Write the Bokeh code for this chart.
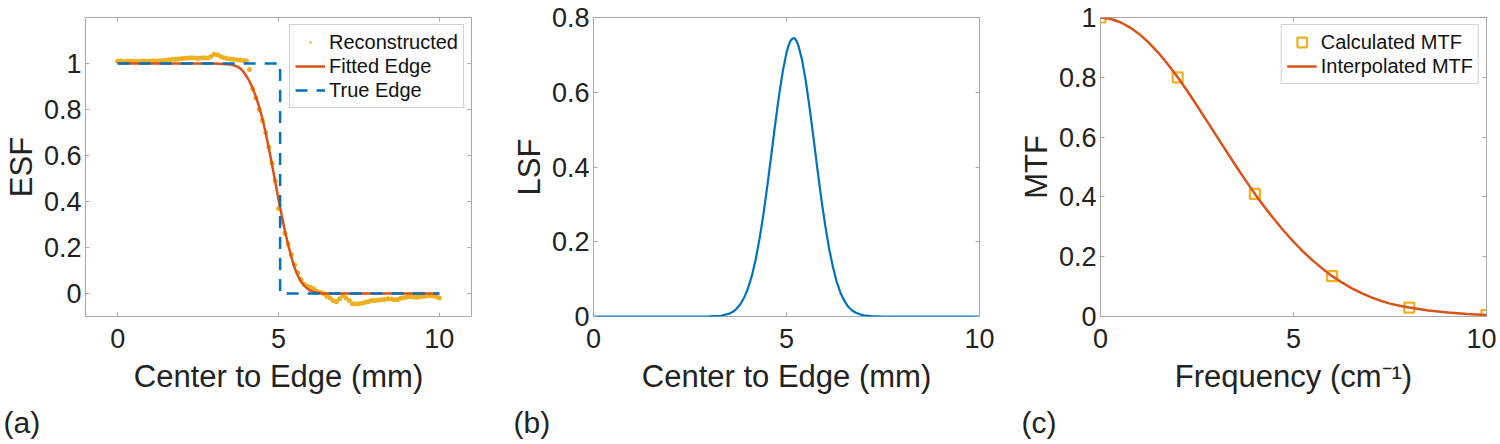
from bokeh.plotting import figure
from bokeh.layouts import row
from bokeh.models import (Range1d, FixedTicker, LinearAxis, NumeralTickFormatter, Title)
from bokeh.embed import file_html
from bokeh.resources import INLINE

# ---------------- data ----------------
# (a) ESF
recon_x = [round(0.1 * i, 1) for i in range(101)]
recon_y = [1.010, 1.011, 1.009, 1.010, 1.011, 1.010, 1.009, 1.010, 1.011, 1.010,
           1.011, 1.012, 1.011, 1.012, 1.013, 1.014, 1.016, 1.018, 1.019, 1.020,
           1.022, 1.023, 1.024, 1.025, 1.024, 1.023, 1.024, 1.025, 1.024, 1.030,
           1.040, 1.038, 1.030, 1.025, 1.022, 1.020, 1.018, 1.016, 1.015, 1.013,
           1.012, 0.974, 0.890, 0.850, 0.800, 0.752, 0.700, 0.636, 0.566, 0.490,
           0.370, 0.310, 0.262, 0.215, 0.170, 0.125, 0.090, 0.060, 0.040, 0.030,
           0.027, 0.020, 0.010, 0.004, 0.000, -0.012, -0.020, -0.030, -0.036, -0.023,
           -0.009, -0.020, -0.030, -0.045, -0.046, -0.045, -0.042, -0.038, -0.035, -0.030,
           -0.030, -0.028, -0.027, -0.026, -0.023, -0.024, -0.027, -0.026, -0.021, -0.019,
           -0.015, -0.013, -0.015, -0.016, -0.014, -0.013, -0.011, -0.009, -0.011, -0.013,
           -0.020]

fit_x = [0.0, 3.0, 3.5, 3.7, 3.8, 3.9, 4.0, 4.1, 4.2, 4.3, 4.4, 4.5, 4.6, 4.7, 4.8,
         4.9, 5.0, 5.1, 5.2, 5.3, 5.4, 5.5, 5.6, 5.7, 5.8, 5.9, 6.0, 6.1, 6.2, 6.4, 10.0]
fit_y = [1.0, 1.0, 0.996, 0.988, 0.980, 0.966, 0.946, 0.922, 0.892, 0.855, 0.810,
         0.760, 0.700, 0.632, 0.560, 0.484, 0.410, 0.340, 0.272, 0.212, 0.158, 0.112,
         0.078, 0.052, 0.034, 0.021, 0.012, 0.007, 0.003, 0.0, 0.0]

true_x = [0.0, 5.05, 5.05, 10.0]
true_y = [1.0, 1.0, 0.0, 0.0]

# (b) LSF
lsf_x = [0.0, 3.0, 3.3, 3.5, 3.6, 3.7, 3.8, 3.9, 4.0, 4.1, 4.2, 4.3, 4.4, 4.5, 4.6,
         4.7, 4.8, 4.9, 5.0, 5.05, 5.1, 5.15, 5.2, 5.25, 5.3, 5.4, 5.5, 5.6, 5.7, 5.8,
         5.9, 6.0, 6.1, 6.2, 6.3, 6.4, 6.5, 6.6, 6.7, 6.8, 6.9, 7.0, 7.2, 7.5, 10.0]
lsf_y = [0.0, 0.0003, 0.002, 0.007, 0.012, 0.020, 0.032, 0.050, 0.075, 0.108, 0.152,
         0.207, 0.272, 0.347, 0.427, 0.509, 0.587, 0.654, 0.706, 0.724, 0.737, 0.743,
         0.745, 0.739, 0.728, 0.688, 0.630, 0.557, 0.477, 0.395, 0.316, 0.246, 0.184,
         0.134, 0.093, 0.063, 0.042, 0.026, 0.016, 0.010, 0.006, 0.003, 0.001, 0.0, 0.0]

# (c) MTF
mtf_calc_x = [0, 2, 4, 6, 8, 10]
mtf_calc_y = [1.0, 0.80, 0.41, 0.135, 0.03, 0.005]
mtf_int_x = [0.0, 0.25, 0.5, 0.75, 1.0, 1.25, 1.5, 1.75, 2.0, 2.25, 2.5, 2.75, 3.0,
             3.25, 3.5, 3.75, 4.0, 4.25, 4.5, 4.75, 5.0, 5.25, 5.5, 5.75, 6.0, 6.25,
             6.5, 6.75, 7.0, 7.25, 7.5, 7.75, 8.0, 8.5, 9.0, 9.5, 10.0]
mtf_int_y = [1.0, 0.996, 0.985, 0.968, 0.945, 0.916, 0.882, 0.843, 0.800, 0.754,
             0.705, 0.655, 0.605, 0.555, 0.505, 0.457, 0.410, 0.366, 0.325, 0.286,
             0.250, 0.217, 0.187, 0.160, 0.135, 0.114, 0.095, 0.079, 0.065, 0.053,
             0.043, 0.036, 0.030, 0.020, 0.013, 0.008, 0.005]

x_ticks = [0, 5, 10]
y_ticks_a = [0, 0.2, 0.4, 0.6, 0.8, 1.0]
y_ticks_b = [0, 0.2, 0.4, 0.6, 0.8]
y_ticks_c = [0, 0.2, 0.4, 0.6, 0.8, 1.0]
panel_tags = ["(a)", "(b)", "(c)"]

BLUE = "#0072BD"
RED = "#D95319"
YEL = "#EDB120"
FONT = "Liberation Sans"
TICK_FS = "27px"
LAB_FS = "31px"
BOX = "#a8a8a8"
TXT = "#222222"


def make_fig(xr, yr, xt, yt, xlabel, ylabel, left, right, tag, tag_off):
    p = figure(frame_width=386, frame_height=299, x_range=Range1d(*xr),
               y_range=Range1d(*yr), output_backend="svg", toolbar_location=None,
               min_border_left=left, min_border_right=right, min_border_top=17,
               min_border_bottom=0)
    p.grid.visible = False
    p.outline_line_color = BOX
    p.outline_line_width = 1
    p.background_fill_color = "white"
    p.border_fill_color = "white"
    for ax in (p.xaxis[0], p.yaxis[0]):
        ax.major_label_text_font = FONT
        ax.major_label_text_font_size = TICK_FS
        ax.major_label_text_color = TXT
        ax.axis_label_text_font = FONT
        ax.axis_label_text_font_size = LAB_FS
        ax.axis_label_text_font_style = "normal"
        ax.axis_label_text_color = TXT
        ax.axis_line_color = None
        ax.major_tick_line_color = BOX
        ax.major_tick_in = 4
        ax.major_tick_out = 0
        ax.minor_tick_line_color = None
    p.xaxis[0].ticker = FixedTicker(ticks=xt)
    p.yaxis[0].ticker = FixedTicker(ticks=yt)
    p.xaxis[0].axis_label = xlabel
    p.yaxis[0].axis_label = ylabel
    p.xaxis[0].major_label_standoff = 12
    p.xaxis[0].axis_label_standoff = 8
    p.yaxis[0].major_label_standoff = 4
    p.yaxis[0].axis_label_standoff = 2
    p.yaxis[0].formatter = NumeralTickFormatter(format="0.[0]")
    # mirrored ticks on top and right (no labels drawn)
    for loc, t in (("above", xt), ("right", yt)):
        ax = LinearAxis(ticker=FixedTicker(ticks=t), axis_line_color=None,
                        major_tick_line_color=BOX, major_tick_in=4, major_tick_out=0,
                        minor_tick_line_color=None, major_label_text_font_size="0px",
                        major_label_text_color=None, major_label_standoff=0,
                        axis_label=None)
        p.add_layout(ax, loc)
    p.add_layout(Title(text=tag, align="left", offset=tag_off, standoff=15,
                       text_font=FONT, text_font_size="30px", text_font_style="normal",
                       text_color=TXT), "below")
    return p


def style_legend(p):
    lg = p.legend[0]
    lg.location = "top_right"
    lg.margin = 7
    lg.padding = 5
    lg.spacing = 0
    lg.glyph_width = 30
    lg.glyph_height = 24
    lg.label_height = 24
    lg.label_standoff = 4
    lg.label_text_font = FONT
    lg.label_text_font_size = "20px"
    lg.label_text_color = "#111111"
    lg.border_line_color = BOX
    lg.border_line_width = 1
    lg.background_fill_alpha = 1.0


# (a)
p1 = make_fig((-1, 11), (-0.1, 1.2), x_ticks, y_ticks_a, "Center to Edge (mm)", "ESF",
              82, 30, panel_tags[0], -82)
p1.scatter(recon_x, recon_y, marker="dot", size=20, color=YEL, legend_label="Reconstructed")
p1.line(fit_x, fit_y, line_color=RED, line_width=2.5, legend_label="Fitted Edge")
p1.line(true_x, true_y, line_color=BLUE, line_width=2.5, line_dash="12 9",
        legend_label="True Edge")
style_legend(p1)

# (b)
p2 = make_fig((0, 10), (0, 0.8), x_ticks, y_ticks_b, "Center to Edge (mm)", "LSF",
              92, 30, panel_tags[1], -80)
p2.line(lsf_x, lsf_y, line_color=BLUE, line_width=2.2)

# (c)
p3 = make_fig((0, 10), (0, 1.0), x_ticks, y_ticks_c, "Frequency (cm\u207b\u00b9)", "MTF",
              91, 10, panel_tags[2], -79)
p3.scatter(mtf_calc_x, mtf_calc_y, marker="square", size=10, fill_color=None,
           line_color=YEL, line_width=2.2, legend_label="Calculated MTF")
p3.line(mtf_int_x, mtf_int_y, line_color=RED, line_width=2.5, legend_label="Interpolated MTF")
style_legend(p3)

layout = row(p1, p2, p3, spacing=0)
open("out.html", "w").write(file_html(layout, INLINE))
